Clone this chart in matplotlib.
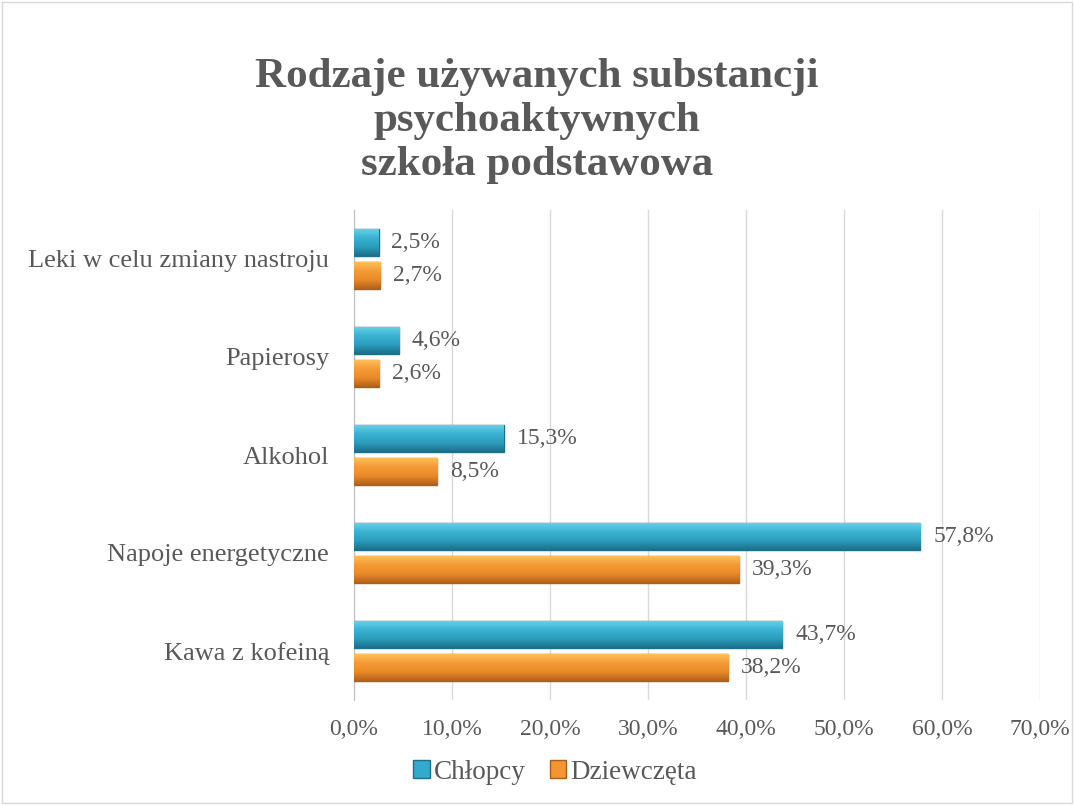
import matplotlib.pyplot as plt
import numpy as np
from matplotlib.colors import LinearSegmentedColormap

categories = ["Kawa z kofeiną", "Napoje energetyczne", "Alkohol", "Papierosy",
              "Leki w celu zmiany nastroju"]
chlopcy = [43.7, 57.8, 15.3, 4.6, 2.5]
dziewczeta = [38.2, 39.3, 8.5, 2.6, 2.7]
xticks = [0, 10, 20, 30, 40, 50, 60, 70]

plt.rcParams['font.family'] = ['Liberation Serif', 'DejaVu Serif']
text_col = '#595959'

fig = plt.figure(figsize=(10.74, 8.05), dpi=100)
ax = fig.add_axes([354 / 1074, 1 - 700 / 805, 686 / 1074, 490 / 805])

y = np.arange(len(categories))
h = 0.28
off = 0.17
b1 = ax.barh(y + off, chlopcy, height=h, color='#32AACB', edgecolor='#1E6F88',
             linewidth=1.0, label='Chłopcy', zorder=3)
b2 = ax.barh(y - off, dziewczeta, height=h, color='#F39532', edgecolor='#A85E16',
             linewidth=1.0, label='Dziewczęta', zorder=3)

# bevel-like vertical gradient inside each bar
cm_blue = LinearSegmentedColormap.from_list('b', ['#1C6F89', '#2C9DBD', '#3BB3D3', '#6AD3EC'])
cm_orng = LinearSegmentedColormap.from_list('o', ['#B3621A', '#EA8A2A', '#F59C36', '#FDC35E'])
grad = np.linspace(0, 1, 64).reshape(-1, 1)
for bars, cm in [(b1, cm_blue), (b2, cm_orng)]:
    for p in bars:
        x0, y0 = p.get_x(), p.get_y()
        w, hh = p.get_width(), p.get_height()
        im = ax.imshow(grad, cmap=cm, aspect='auto', origin='lower',
                       extent=[x0, x0 + w, y0, y0 + hh], zorder=3.5)
        im.set_clip_path(p)

for yi, v in zip(y, chlopcy):
    ax.text(v + 1.3, yi + off, f"{v:.1f}%".replace('.', ','), va='center',
            ha='left', fontsize=17, color=text_col)
for yi, v in zip(y, dziewczeta):
    ax.text(v + 1.3, yi - off, f"{v:.1f}%".replace('.', ','), va='center',
            ha='left', fontsize=17, color=text_col)

ax.set_xlim(0, 70)
ax.set_ylim(-0.5, len(categories) - 0.5)
ax.set_xticks(xticks)
ax.set_xticklabels([f"{t:.1f}%".replace('.', ',') for t in xticks])
ax.set_yticks(y)
ax.set_yticklabels(categories)
ax.tick_params(axis='both', length=0, labelcolor=text_col)
ax.tick_params(axis='x', pad=14, labelsize=17)
ax.tick_params(axis='y', pad=18, labelsize=19)
ax.grid(axis='x', color='#D9D9D9', linewidth=1, zorder=0)
for s in ['top', 'right', 'bottom']:
    ax.spines[s].set_visible(False)
ax.spines['left'].set_color('#BFBFBF')

fig.text(0.5, 1 - 121 / 805, "Rodzaje używanych substancji\npsychoaktywnych\nszkoła podstawowa",
         ha='center', va='center', fontsize=31, fontweight='bold', color=text_col,
         linespacing=1.2)

fig.legend(loc='center', bbox_to_anchor=(555 / 1074, 1 - 772 / 805), ncol=2,
           frameon=False, fontsize=19.5, labelcolor=text_col, handlelength=0.6,
           handleheight=0.6, handletextpad=0.15, columnspacing=0.9)

fig.patches.append(plt.Rectangle((0.002, 0.002), 0.996, 0.996, transform=fig.transFigure,
                                 fill=False, edgecolor='#D9D9D9', linewidth=1))

fig.savefig('out.png', dpi=100)
